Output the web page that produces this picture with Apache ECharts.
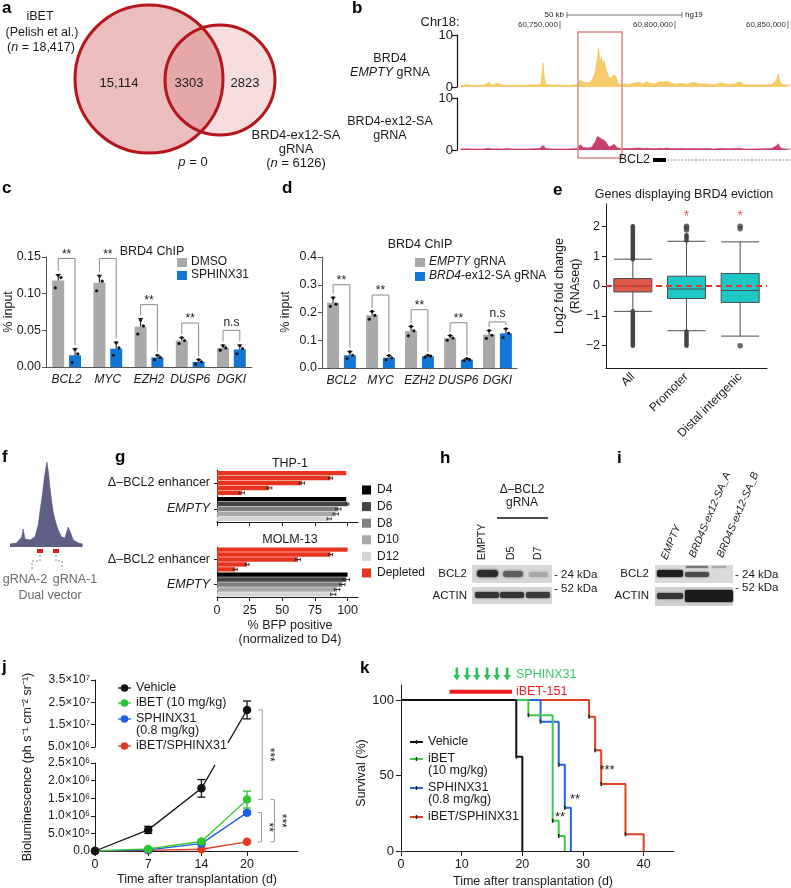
<!DOCTYPE html>
<html>
<head>
<meta charset="utf-8">
<title>BRD4 / BCL2 figure</title>
<script src="https://cdn.jsdelivr.net/npm/echarts@6.0.0/dist/echarts.min.js"></script>
<style>
  html, body { margin: 0; padding: 0; background: #fff; }
  #chart { width: 791px; height: 888px; }
</style>
</head>
<body>
<div id="chart"></div>
<script>
const F = '"Liberation Sans", Arial, Helvetica, sans-serif';

// a. Venn overlap counts
const vennCounts = ['15,114', '3303', '2823'];

// b. BRD4 ChIP tracks, position in kb after chr18:60,700,000
const bPos = [6.5, 9.4, 11.5, 13.8, 16.5, 18.8, 20.5, 22.5, 24.5, 26.8, 29.5, 32.6, 35.5, 38.4, 40.5, 41.6,
  42.0, 42.5, 43.0, 43.6, 45.0, 47.1, 50.0, 52.9, 55.0, 57.2, 58.7, 60.0, 61.6, 62.8, 63.8, 65.2,
  66.2, 66.7, 67.3, 67.9, 68.5, 69.1, 69.8, 70.6, 71.4, 72.5, 73.4, 74.2, 75.0, 76.0, 76.8, 78.0,
  80.0, 81.9, 84.0, 86.0, 87.7, 89.0, 91.0, 93.5, 95.0, 96.4, 98.0, 100.0, 102.0, 105.1, 108.0, 110.9,
  114.0, 117.0, 119.6, 123.0, 126.0, 128.3, 130.0, 134.1, 138.0, 142.0, 144.2, 144.9, 145.6, 146.5, 148.0, 150.4];
const bEmpty = [0.3, 0.45, 0.3, 0.3, 0.35, 0.85, 0.35, 0.75, 0.4, 0.3, 0.35, 0.3, 0.35, 0.4, 0.45, 0.6,
  2.2, 4.6, 2.0, 0.5, 0.4, 0.4, 0.35, 0.3, 0.35, 0.5, 1.3, 0.9, 0.8, 0.9, 1.3, 2.8,
  5.8, 7.4, 4.8, 5.8, 4.2, 5.1, 3.6, 2.6, 1.6, 1.9, 2.4, 2.0, 0.8, 0.5, 0.8, 0.6,
  0.5, 0.7, 0.9, 0.6, 1.0, 0.7, 0.6, 1.0, 0.9, 1.1, 0.8, 0.5, 0.7, 0.5, 0.9, 0.6,
  0.6, 0.4, 0.8, 0.5, 0.6, 1.0, 0.4, 0.4, 0.4, 0.5, 1.3, 2.5, 1.2, 0.5, 0.4, 0.35];
const bBrd4 = [0.2, 0.25, 0.2, 0.2, 0.2, 0.35, 0.2, 0.25, 0.2, 0.3, 0.2, 0.2, 0.2, 0.25, 0.3, 0.4,
  0.8, 1.0, 0.7, 0.3, 0.25, 0.2, 0.2, 0.2, 0.25, 0.3, 1.0, 0.5, 0.4, 0.45, 0.6, 1.6,
  2.6, 2.7, 2.3, 2.4, 2.0, 2.2, 1.6, 1.0, 0.6, 0.8, 1.1, 1.0, 0.4, 0.3, 0.45, 0.3,
  0.3, 0.35, 0.4, 0.3, 0.35, 0.3, 0.25, 0.35, 0.3, 0.4, 0.3, 0.25, 0.3, 0.25, 0.3, 0.25,
  0.3, 0.2, 0.3, 0.25, 0.3, 0.35, 0.2, 0.2, 0.25, 0.3, 0.8, 1.2, 0.6, 0.3, 0.2, 0.2];

// c. BRD4 ChIP, DMSO vs SPHINX31
const genes = ['BCL2', 'MYC', 'EZH2', 'DUSP6', 'DGKI'];
const cDmso = [0.118, 0.115, 0.055, 0.036, 0.026];
const cDmsoErr = [0.008, 0.010, 0.011, 0.004, 0.004];
const cDmsoReps = [[0.108, 0.122, 0.125], [0.104, 0.117, 0.124], [0.045, 0.056, 0.064], [0.032, 0.036, 0.040], [0.023, 0.026, 0.029]];
const cSph = [0.016, 0.025, 0.013, 0.007, 0.024];
const cSphErr = [0.009, 0.009, 0.003, 0.003, 0.006];
const cSphReps = [[0.006, 0.018, 0.024], [0.016, 0.026, 0.033], [0.010, 0.013, 0.016], [0.004, 0.007, 0.010], [0.018, 0.025, 0.029]];
const cSig = ['**', '**', '**', '**', 'n.s'];
const cSigTop = [0.148, 0.148, 0.085, 0.060, 0.050];

// d. BRD4 ChIP, EMPTY vs BRD4-ex12-SA gRNA
const dEmpty = [0.235, 0.190, 0.133, 0.108, 0.120];
const dEmptyErr = [0.020, 0.014, 0.017, 0.009, 0.015];
const dEmptyReps = [[0.222, 0.230, 0.253], [0.176, 0.190, 0.204], [0.116, 0.134, 0.150], [0.100, 0.108, 0.117], [0.107, 0.118, 0.135]];
const dBrd = [0.046, 0.037, 0.042, 0.030, 0.125];
const dBrdErr = [0.014, 0.008, 0.004, 0.004, 0.017];
const dBrdReps = [[0.034, 0.046, 0.058], [0.030, 0.037, 0.045], [0.039, 0.043, 0.046], [0.027, 0.030, 0.034], [0.110, 0.125, 0.141]];
const dSig = ['**', '**', '**', '**', 'n.s'];
const dSigTop = [0.300, 0.263, 0.210, 0.163, 0.166];

// e. log2 fold change boxes [min, Q1, median, Q3, max]
const eCats = ['All', 'Promoter', 'Distal intergenic'];
const eBox = [[-0.85, -0.2, 0.0, 0.25, 0.9], [-1.5, -0.42, -0.1, 0.33, 1.5], [-1.68, -0.55, -0.15, 0.42, 1.48]];
const eOutlierRuns = [[0, 0.9, 2.0], [0, -0.85, -2.0], [1, 1.53, 1.7], [1, -1.53, -2.0]];
const eOutliers = [[1, 1.88], [1, 1.95], [1, 2.0], [2, 1.92], [2, 2.0], [2, -2.0]];
const eStars = [[1, 2.33], [2, 2.33]];

// f. enhancer peak
const fPos = [0, 2.2, 3.9, 4.4, 5.0, 6.7, 8.3, 9.4, 10.2, 10.9, 11.4, 12.0, 12.3, 12.8, 13.3, 13.9, 14.4, 15.2, 16.1, 17.2, 18.3, 19.4, 20.2, 21.1, 22.8, 24.2];
const fSignal = [3, 4, 10, 18, 8, 7, 10, 22, 40, 55, 68, 80, 85, 75, 60, 45, 35, 25, 17, 10, 9, 20, 14, 7, 4, 3];

// g. % BFP positive
const gDays = ['D4', 'D6', 'D8', 'D10', 'D12'];
const gCats = ['Δ–BCL2 enhancer', 'EMPTY'];
const thpEnh = [99, 87, 65, 40, 19];
const thpEnhErr = [0, 1.5, 2, 2, 2];
const thpEmpty = [99, 100, 93, 91, 86];
const thpEmptyErr = [0, 1, 2, 2, 1.5];
const molmEnh = [100, 87, 62, 23, 14];
const molmEnhErr = [0, 1.5, 2, 1.5, 1.5];
const molmEmpty = [100, 99, 96, 92, 89];
const molmEmptyErr = [0, 2.5, 2, 2, 2];
const gTicks = [0, 25, 50, 75, 100];

// j. bioluminescence
const jDays = [0, 7, 14, 20];
const jVehicle = [0, 6.0e5, 1.78e6, 2.16e7];
const jVehicleErr = [0, 1.0e5, 2.5e5, 4.0e6];
const jIbet = [0, 6e4, 2.7e5, 1.46e6];
const jIbetErr = [0, 0, 4e4, 2.4e5];
const jSphinx = [0, 3e4, 2.1e5, 1.09e6];
const jSphinxErr = [0, 0, 3e4, 5e4];
const jCombo = [0, 2e4, 5e4, 2.6e5];
const jComboErr = [0, 0, 0, 3e4];
const jLowTicks = ['0.0', '5.0×10⁵', '1.0×10⁶', '1.5×10⁶', '2.0×10⁶', '2.5×10⁶'];
const jUpTicks = ['5.0×10⁶', '1.5×10⁷', '2.5×10⁷', '3.5×10⁷'];
const jSigX = [22.0, 21.9, 23.6];
const jSigTop = [jVehicle[3], jSphinx[3], jIbet[3]];
const jSigBottom = [jIbet[3], jCombo[3], jCombo[3]];
const jSigLabel = ['***', '**', '***'];

// k. survival
const kVehT = [0, 19, 20], kVehS = [100, 62.5, 0];
const kIbetT = [0, 21, 25, 26, 27], kIbetS = [100, 90, 20, 10, 0];
const kSphT = [0, 23, 26, 27, 28], kSphS = [100, 85.7, 57.1, 28.6, 0];
const kComboT = [0, 31, 32, 33, 37, 40], kComboS = [100, 88.9, 66.7, 44.4, 11.1, 0];
const kSphinxDoses = [9.2, 10.9, 12.5, 14.2, 15.8, 17.5];
const kIbetWindow = [8, 18.3];

const jColors = ['#111111', '#2fc62f', '#1f5fe8', '#e03b24'];
const kColors = ['#111111', '#3ccc4a', '#2266e0', '#e0401f'];
const gRed = '#e8341f';
const gColors = ['#000000', '#434343', '#7f7f7f', '#a8a8a8', '#d5d5d5'];
const jLowMax = 2.5e6, jUpMin = 5e6;
const gBarW = 4.4, gGap = 0.12;

const chart = echarts.init(document.getElementById('chart'));

// ---------- helpers ----------
function txt(x, y, text, o) {
  o = o || {};
  const st = {
    text: text, fill: o.fill || '#1a1a1a', fontSize: o.size || 12, fontFamily: F,
    fontWeight: o.weight || 'normal', fontStyle: o.style || 'normal',
    align: o.align || 'center', textAlign: o.align || 'center',
    verticalAlign: 'middle', textVerticalAlign: 'middle'
  };
  if (o.it) st.rich = { i: { fontStyle: 'italic', fontSize: o.size || 12, fontFamily: F, fill: o.fill || '#1a1a1a' } };
  return { type: 'text', x: x, y: y, rotation: o.rot || 0, style: st, silent: true, z: 100 };
}
function rect(x, y, w, h, fill, o) {
  o = o || {};
  return { type: 'rect', shape: { x: x, y: y, width: w, height: h, r: o.r || 0 },
    style: { fill: fill, stroke: o.stroke || null, lineWidth: o.lw || 0, shadowBlur: o.blur || 0, shadowColor: o.blur ? fill : null },
    silent: true, z: o.z || 50 };
}
function seg(x1, y1, x2, y2, stroke, lw, dash) {
  return { type: 'line', shape: { x1: x1, y1: y1, x2: x2, y2: y2 },
    style: { stroke: stroke, lineWidth: lw || 1, lineDash: dash || null }, silent: true, z: 60 };
}
function poly(points, stroke, lw, dash) {
  return { type: 'polyline', shape: { points: points }, style: { stroke: stroke, lineWidth: lw || 1, fill: null, lineDash: dash || null }, silent: true, z: 60 };
}

// error bar + replicate dots for a vertical bar
function barDetail(offset) {
  return function (params, api) {
    const i = api.value(0), m = api.value(1), e = api.value(2);
    const base = api.coord([i, m]);
    const x = base[0] + offset;
    const top = api.coord([i, m + e])[1];
    const ch = [
      { type: 'line', shape: { x1: x, y1: base[1], x2: x, y2: top }, style: { stroke: '#111', lineWidth: 1 } },
      { type: 'line', shape: { x1: x - 2.5, y1: top, x2: x + 2.5, y2: top }, style: { stroke: '#111', lineWidth: 1 } }
    ];
    const dx = [-2.8, 2.8, 0];
    for (let k = 0; k < 3; k++) {
      const p = api.coord([i, api.value(3 + k)]);
      ch.push({ type: 'circle', shape: { cx: x + dx[k], cy: p[1], r: 1.6 }, style: { fill: '#111' } });
    }
    return { type: 'group', children: ch };
  };
}
function bracket(labels, offset) {
  return function (params, api) {
    const i = api.value(0);
    const yT = api.coord([i, api.value(1)])[1];
    const yL = api.coord([i, api.value(2)])[1];
    const yR = api.coord([i, api.value(3)])[1];
    const cx = api.coord([i, 0])[0];
    const lab = labels[params.dataIndex];
    return { type: 'group', children: [
      { type: 'polyline', shape: { points: [[cx - offset, yL], [cx - offset, yT], [cx + offset, yT], [cx + offset, yR]] },
        style: { stroke: '#8a8a8a', lineWidth: 1, fill: null } },
      { type: 'text', x: cx, y: yT - (lab === 'n.s' ? 8 : 4),
        style: { text: lab, fontSize: 12, fontFamily: F, fill: '#1a1a1a', align: 'center', verticalAlign: 'middle' } }
    ] };
  };
}
function chipSeries(ax, a, aErr, aReps, b, bErr, bReps, sigTop, sig, colA, colB, legGap) {
  const off = 8.4;
  const base = { coordinateSystem: 'cartesian2d', xAxisIndex: ax, yAxisIndex: ax, silent: true };
  return [
    Object.assign({ type: 'bar', data: a, barWidth: 12, barGap: '40%', itemStyle: { color: colA } }, base),
    Object.assign({ type: 'bar', data: b, barWidth: 12, barGap: '40%', itemStyle: { color: colB } }, base),
    Object.assign({ type: 'custom', z: 5, renderItem: barDetail(-off), data: a.map((v, i) => [i, v, aErr[i]].concat(aReps[i])) }, base),
    Object.assign({ type: 'custom', z: 5, renderItem: barDetail(off), data: b.map((v, i) => [i, v, bErr[i]].concat(bReps[i])) }, base),
    Object.assign({ type: 'custom', z: 5, renderItem: bracket(sig, off),
      data: sigTop.map((t, i) => [i, t, a[i] + aErr[i] + legGap, b[i] + bErr[i] + legGap]) }, base)
  ];
}
function gOff(k) {
  const total = 5 * gBarW + 4 * gBarW * gGap;
  return -total / 2 + gBarW / 2 + k * gBarW * (1 + gGap);
}
function gSeries(ax, enh, enhErr, emp, empErr) {
  const bars = gDays.map((d, k) => ({
    type: 'bar', name: d, xAxisIndex: ax, yAxisIndex: ax, silent: true,
    data: [{ value: enh[k], itemStyle: { color: gRed } }, emp[k]],
    barWidth: gBarW, barGap: (gGap * 100) + '%', itemStyle: { color: gColors[k] }
  }));
  const errData = [];
  gDays.forEach((d, k) => {
    if (enhErr[k]) errData.push([0, k, enh[k], enhErr[k]]);
    if (empErr[k]) errData.push([1, k, emp[k], empErr[k]]);
  });
  bars.push({
    type: 'custom', coordinateSystem: 'cartesian2d', xAxisIndex: ax, yAxisIndex: ax, z: 6, silent: true,
    data: errData,
    renderItem: function (params, api) {
      const cat = api.value(0), k = api.value(1), v = api.value(2), e = api.value(3);
      const y = api.coord([v, cat])[1] + gOff(k);
      const xl = api.coord([v - e, cat])[0], xr = api.coord([v + e, cat])[0];
      const s = { stroke: '#222', lineWidth: 0.9 };
      return { type: 'group', children: [
        { type: 'line', shape: { x1: xl, y1: y, x2: xr, y2: y }, style: s },
        { type: 'line', shape: { x1: xl, y1: y - 1.6, x2: xl, y2: y + 1.6 }, style: s },
        { type: 'line', shape: { x1: xr, y1: y - 1.6, x2: xr, y2: y + 1.6 }, style: s }
      ] };
    }
  });
  return bars;
}
function vErr(colors) {
  return function (params, api) {
    const x = api.value(0), m = api.value(1), e = api.value(2);
    const p1 = api.coord([x, m - e]), p2 = api.coord([x, m + e]);
    const s = { stroke: colors[api.value(3)], lineWidth: 1.3 };
    return { type: 'group', children: [
      { type: 'line', shape: { x1: p1[0], y1: p1[1], x2: p2[0], y2: p2[1] }, style: s },
      { type: 'line', shape: { x1: p1[0] - 4, y1: p1[1], x2: p1[0] + 4, y2: p1[1] }, style: s },
      { type: 'line', shape: { x1: p2[0] - 4, y1: p2[1], x2: p2[0] + 4, y2: p2[1] }, style: s }
    ] };
  };
}
function upperPx(x, v) {
  return chart.convertToPixel({ xAxisIndex: 8, yAxisIndex: 8 }, [x, v]);
}
function kmSeries(t, s, color, z) {
  return {
    type: 'line', xAxisIndex: 10, yAxisIndex: 10, step: 'end', z: z, silent: true,
    data: t.map((x, i) => ({ value: [x, s[i]], symbol: (i === 0 || i === t.length - 1) ? 'none' : 'rect' })),
    symbol: 'rect', symbolSize: [1.6, 4], itemStyle: { color: '#222' },
    lineStyle: { color: color, width: 2 }
  };
}

const axLine = { show: true, lineStyle: { color: '#1a1a1a', width: 1 } };
const axTick = { show: true, length: 4, lineStyle: { color: '#1a1a1a' } };
const noSplit = { show: false };
const minusFmt = v => (v < 0 ? '−' + (-v) : String(v));

// ---------- graphic elements ----------
const G = [];
[['a', 2, 8], ['b', 352, 8], ['c', 2, 188], ['d', 282, 188], ['e', 553, 190], ['f', 2, 457], ['g', 115, 457],
 ['h', 440, 458], ['i', 617, 458], ['j', 2, 667], ['k', 360, 668]].forEach(l =>
  G.push(txt(l[1], l[2], l[0], { size: 17, weight: 'bold', align: 'left', fill: '#000' })));

// a: Venn
G.push({ type: 'circle', shape: { cx: 149, cy: 79, r: 74 }, style: { fill: '#ebbdbd' }, silent: true, z: 40 });
G.push({ type: 'circle', shape: { cx: 220, cy: 80, r: 55 }, style: { fill: 'rgba(200,60,60,0.17)' }, silent: true, z: 41 });
G.push({ type: 'circle', shape: { cx: 149, cy: 79, r: 74 }, style: { fill: null, stroke: '#b5161c', lineWidth: 3 }, silent: true, z: 42 });
G.push({ type: 'circle', shape: { cx: 220, cy: 80, r: 55 }, style: { fill: null, stroke: '#b5161c', lineWidth: 3 }, silent: true, z: 43 });
G.push(txt(40, 17, 'iBET', { size: 12.5 }), txt(42, 33, '(Pelish et al.)', { size: 12.5 }), txt(41, 48, '({i|n} = 18,417)', { size: 12.5, it: true }));
G.push(txt(119, 83, vennCounts[0], { size: 13 }), txt(189, 83, vennCounts[1], { size: 13 }), txt(245, 83, vennCounts[2], { size: 13 }));
G.push(txt(296, 135, 'BRD4-ex12-SA', { size: 13 }), txt(296, 149, 'gRNA', { size: 13 }), txt(296, 163, '({i|n} = 6126)', { size: 13, it: true }));
G.push(txt(193, 162, '{i|p} = 0', { size: 13, it: true }));

// b: labels, scale, gene model
G.push(txt(440, 22, 'Chr18:', { size: 13 }));
G.push(txt(390, 59, 'BRD4', { size: 12.5 }), txt(390, 73, '{i|EMPTY} gRNA', { size: 12.5, it: true }));
G.push(txt(390, 122, 'BRD4-ex12-SA', { size: 12.5 }), txt(390, 136, 'gRNA', { size: 12.5 }));
G.push(txt(564, 15, '50 kb', { size: 8, align: 'right' }), seg(567, 15, 682, 15, '#555', 0.8),
  seg(567, 12, 567, 18, '#555', 0.8), seg(682, 12, 682, 18, '#555', 0.8), txt(685, 15, 'hg19', { size: 8, align: 'left' }));
[['60,750,000', 560], ['60,800,000', 675], ['60,850,000', 788]].forEach(c => {
  G.push(txt(c[1] - 2, 25, c[0], { size: 8, align: 'right', fill: '#333' }), seg(c[1], 21, c[1], 29, '#555', 0.8));
});
G.push({ type: 'rect', shape: { x: 578, y: 32, width: 44, height: 126 }, style: { fill: null, stroke: '#d98c8c', lineWidth: 1.5 }, silent: true, z: 70 });
G.push(txt(650, 160, 'BCL2', { size: 12.5, align: 'right' }), rect(653, 158, 13, 4, '#000'), seg(667, 160, 791, 160, '#8a8a8a', 1, [2, 1.5]));

// c, d titles, legends, y titles
G.push(txt(152, 252, 'BRD4 ChIP', { size: 12.5 }));
G.push(rect(177, 258, 10, 9, '#a9a9a9'), rect(177, 271, 10, 9, '#1276d6'));
G.push(txt(191, 262, 'DMSO', { align: 'left' }), txt(191, 275, 'SPHINX31', { align: 'left' }));
G.push(txt(9, 312, '% input', { size: 12.5, rot: Math.PI / 2 }));
G.push(txt(420, 245, 'BRD4 ChIP', { size: 12.5 }));
G.push(rect(415, 258, 10, 9, '#a9a9a9'), rect(415, 272, 10, 9, '#1276d6'));
G.push(txt(429, 262, '{i|EMPTY} gRNA', { align: 'left', it: true }), txt(429, 276, '{i|BRD4}-ex12-SA gRNA', { align: 'left', it: true }));
G.push(txt(286, 312, '% input', { size: 12.5, rot: Math.PI / 2 }));

// e
G.push(txt(684, 195, 'Genes displaying BRD4 eviction', { size: 12.5 }));
G.push(txt(560, 286, 'Log2 fold change', { size: 12.5, rot: Math.PI / 2 }), txt(576, 286, '(RNAseq)', { size: 12.5, rot: Math.PI / 2 }));

// f
G.push(rect(37, 549, 6, 4, '#d4201a'), rect(53, 549, 6, 4, '#d4201a'));
G.push(poly([[40, 555], [40, 561], [32, 561], [32, 570]], '#888', 1, [2, 2]), poly([[56, 555], [56, 561], [62, 561], [62, 570]], '#888', 1, [2, 2]));
G.push(txt(25, 580, 'gRNA-2', { fill: '#6a6a6a', size: 12.5 }), txt(75, 580, 'gRNA-1', { fill: '#6a6a6a', size: 12.5 }), txt(50, 596, 'Dual vector', { fill: '#6a6a6a', size: 12.5 }));

// g
G.push(txt(290, 464, 'THP-1', { size: 12.5 }), txt(290, 540, 'MOLM-13', { size: 12.5 }));
G.push(txt(290, 626, '% BFP positive', { size: 12.5 }), txt(290, 640, '(normalized to D4)', { size: 12.5 }));
gDays.concat(['Depleted']).forEach((d, k) => {
  const y = 490 + k * 16.6;
  G.push(rect(362, y - 4.5, 9, 9, k < 5 ? gColors[k] : gRed), txt(377, y, d, { align: 'left' }));
});

// h blot
G.push(txt(522, 490, 'Δ–BCL2'), txt(522, 503, 'gRNA'), seg(497, 518, 548, 518, '#111', 1.5));
[['EMPTY', 482], ['D5', 511], ['D7', 538]].forEach(l => G.push(txt(l[1], 560, l[0], { size: 10.5, align: 'left', rot: Math.PI / 2 })));
G.push(rect(472, 565, 80, 18, '#d8d8d8'), rect(472, 587, 80, 17, '#d4d4d4'));
G.push(rect(477, 570, 21, 7, '#2a2a2a', { r: 3, blur: 3, z: 51 }), rect(503, 571, 20, 6, '#5e5e5e', { r: 3, blur: 3, z: 51 }),
  rect(529, 572, 19, 5, '#a8a8a8', { r: 2, blur: 3, z: 51 }));
G.push(rect(475, 592, 24, 6, '#333', { r: 2, blur: 2, z: 51 }), rect(500, 592, 24, 6, '#333', { r: 2, blur: 2, z: 51 }),
  rect(526, 592, 24, 6, '#3a3a3a', { r: 2, blur: 2, z: 51 }));
G.push(txt(467, 574, 'BCL2', { align: 'right', size: 11.5 }), txt(467, 596, 'ACTIN', { align: 'right', size: 11.5 }));
G.push(txt(554, 575, '- 24 kDa', { align: 'left', size: 11.5 }), txt(554, 589, '- 52 kDa', { align: 'left', size: 11.5 }));

// i blot
[['EMPTY', 664, 559], ['BRD4S-ex12-SA_A', 692, 557], ['BRD4S-ex12-SA_B', 720, 557]].forEach(l =>
  G.push(txt(l[1], l[2], l[0], { size: 10.5, align: 'left', style: 'italic', rot: 67 * Math.PI / 180 })));
G.push(rect(655, 565, 78, 18, '#dadada'), rect(655, 587, 78, 19, '#d0d0d0'));
G.push(rect(657, 570, 26, 7, '#1e1e1e', { r: 2, blur: 2, z: 51 }), rect(685, 572, 24, 5, '#4a4a4a', { r: 2, blur: 2, z: 51 }),
  rect(686, 566, 22, 2, '#777', { blur: 1.5, z: 51 }), rect(712, 566, 14, 2, '#aaa', { blur: 1.5, z: 51 }));
G.push(rect(657, 593, 26, 6, '#333', { r: 2, blur: 2, z: 51 }), rect(685, 590, 48, 12, '#1a1a1a', { r: 2, blur: 2, z: 51 }));
G.push(txt(649, 574, 'BCL2', { align: 'right', size: 11.5 }), txt(649, 596, 'ACTIN', { align: 'right', size: 11.5 }));
G.push(txt(735, 575, '- 24 kDa', { align: 'left', size: 11.5 }), txt(735, 588, '- 52 kDa', { align: 'left', size: 11.5 }));

// j legend, titles
[['Vehicle', 688], ['iBET (10 mg/kg)', 703], ['SPHINX31', 719], ['iBET/SPHINX31', 746]].forEach((l, k) => {
  G.push(seg(118, l[1], 131, l[1], jColors[k], 1.3));
  G.push({ type: 'circle', shape: { cx: 124.5, cy: l[1], r: 3.8 }, style: { fill: jColors[k] }, silent: true, z: 61 });
  G.push(txt(136, l[1], l[0], { align: 'left', size: 12.5 }));
});
G.push(txt(136, 731, '(0.8 mg/kg)', { align: 'left', size: 12.5 }));
G.push(txt(28, 767, 'Bioluminescence (ph s⁻¹ cm⁻² sr⁻¹)', { size: 12.5, rot: Math.PI / 2 }));
G.push(txt(197, 880, 'Time after transplantation (d)', { size: 12.5 }));

// k legend, titles, annotations
[['Vehicle', 742], ['iBET', 759], ['SPHINX31', 788], ['iBET/SPHINX31', 817]].forEach((l, k) => {
  G.push(seg(410, l[1], 423, l[1], kColors[k], 2), seg(416.5, l[1] - 2, 416.5, l[1] + 2, '#222', 1.4));
  G.push(txt(428, l[1], l[0], { align: 'left', size: 12.5 }));
});
G.push(txt(428, 771, '(10 mg/kg)', { align: 'left', size: 12.5 }), txt(428, 800, '(0.8 mg/kg)', { align: 'left', size: 12.5 }));
G.push(txt(516, 675, 'SPHINX31', { align: 'left', size: 12.5, fill: '#3cc86a' }), txt(516, 692, 'iBET-151', { align: 'left', size: 12.5, fill: '#ee2222' }));
G.push(txt(607, 770, '***', { size: 13 }), txt(575, 799, '**', { size: 13 }), txt(560, 817, '**', { size: 13 }));
G.push(txt(362, 773, 'Survival (%)', { size: 12.5, rot: Math.PI / 2 }));
G.push(txt(533, 882, 'Time after transplantation (d)', { size: 12.5 }));

// ---------- series ----------
const series = [];
series.push({ type: 'line', xAxisIndex: 0, yAxisIndex: 0, data: bPos.map((p, i) => [p, bEmpty[i]]), symbol: 'none', silent: true,
  lineStyle: { width: 0.6, color: '#f0c050' }, areaStyle: { color: '#f6cb6a', opacity: 1 } });
series.push({ type: 'line', xAxisIndex: 1, yAxisIndex: 1, data: bPos.map((p, i) => [p, bBrd4[i]]), symbol: 'none', silent: true,
  lineStyle: { width: 0.6, color: '#c23a66' }, areaStyle: { color: '#c9406c', opacity: 1 } });

chipSeries(2, cDmso, cDmsoErr, cDmsoReps, cSph, cSphErr, cSphReps, cSigTop, cSig, '#a9a9a9', '#1276d6', 0.005).forEach(s => series.push(s));
chipSeries(3, dEmpty, dEmptyErr, dEmptyReps, dBrd, dBrdErr, dBrdReps, dSigTop, dSig, '#a9a9a9', '#1276d6', 0.012).forEach(s => series.push(s));

// e
series.push({
  type: 'boxplot', xAxisIndex: 4, yAxisIndex: 4, silent: true, boxWidth: [38, 38],
  data: eBox.map((b, i) => ({ value: b, itemStyle: { color: i === 0 ? '#df5a4b' : '#1cc8c6' } })),
  itemStyle: { borderColor: '#4d4d4d', borderWidth: 1 },
  markLine: { silent: true, symbol: ['none', 'none'], label: { show: false }, data: [{ yAxis: 0 }],
    lineStyle: { color: '#e3342f', type: [6, 4], width: 2 } }
});
series.push({
  type: 'custom', coordinateSystem: 'cartesian2d', xAxisIndex: 4, yAxisIndex: 4, silent: true, z: 4, data: eOutlierRuns,
  renderItem: function (params, api) {
    const a = api.coord([api.value(0), api.value(1)]), b = api.coord([api.value(0), api.value(2)]);
    return { type: 'line', shape: { x1: a[0], y1: a[1], x2: b[0], y2: b[1] }, style: { stroke: '#444', lineWidth: 4.5, lineCap: 'round' } };
  }
});
series.push({ type: 'scatter', xAxisIndex: 4, yAxisIndex: 4, data: eOutliers, symbolSize: 5.5, itemStyle: { color: '#444' }, silent: true });
series.push({ type: 'scatter', xAxisIndex: 4, yAxisIndex: 4, data: eStars, symbolSize: 1, itemStyle: { color: 'rgba(0,0,0,0)' }, silent: true,
  label: { show: true, position: 'inside', formatter: '*', color: '#e53030', fontSize: 14, fontFamily: F } });

// f
series.push({ type: 'line', xAxisIndex: 5, yAxisIndex: 5, data: fPos.map((p, i) => [p, fSignal[i]]), symbol: 'none', silent: true,
  lineStyle: { width: 0.6, color: '#58587e' }, areaStyle: { color: '#5e5e86', opacity: 1 } });

// g
gSeries(6, thpEnh, thpEnhErr, thpEmpty, thpEmptyErr).forEach(s => series.push(s));
gSeries(7, molmEnh, molmEnhErr, molmEmpty, molmEmptyErr).forEach(s => series.push(s));

// j
const jGroups = [jVehicle, jIbet, jSphinx, jCombo];
const jErrs = [jVehicleErr, jIbetErr, jSphinxErr, jComboErr];
const jLowErr = [], jUpErr = [];
jGroups.forEach((g, gi) => {
  series.push({
    type: 'line', xAxisIndex: 9, yAxisIndex: 9, z: 10 - gi, silent: true,
    data: jDays.map((d, i) => [d, g[i]]).filter(p => p[1] <= jLowMax),
    symbol: 'circle', symbolSize: 8.5, itemStyle: { color: jColors[gi] }, lineStyle: { color: jColors[gi], width: 1.3 }
  });
  jDays.forEach((d, i) => {
    if (!jErrs[gi][i]) return;
    if (g[i] <= jLowMax) jLowErr.push([d, g[i], jErrs[gi][i], gi]);
    else jUpErr.push([d, g[i], jErrs[gi][i], gi]);
  });
});
series.push({ type: 'line', xAxisIndex: 8, yAxisIndex: 8, z: 10, silent: true,
  data: jDays.map((d, i) => [d, jVehicle[i]]).filter(p => p[1] >= jUpMin),
  symbol: 'circle', symbolSize: 8.5, itemStyle: { color: jColors[0] }, lineStyle: { color: jColors[0], width: 1.3 } });
series.push({ type: 'custom', coordinateSystem: 'cartesian2d', xAxisIndex: 9, yAxisIndex: 9, z: 9, silent: true, data: jLowErr, renderItem: vErr(jColors) });
series.push({ type: 'custom', coordinateSystem: 'cartesian2d', xAxisIndex: 8, yAxisIndex: 8, z: 9, silent: true, data: jUpErr, renderItem: vErr(jColors) });
// vehicle line across the axis break
series.push({
  type: 'custom', coordinateSystem: 'cartesian2d', xAxisIndex: 9, yAxisIndex: 9, z: 8, silent: true,
  data: [[jDays[2], jVehicle[2], jDays[3], jVehicle[3]]],
  renderItem: function (params, api) {
    const a = api.coord([api.value(0), api.value(1)]);
    const b = upperPx(api.value(2), api.value(3));
    const upBottom = upperPx(0, jUpMin)[1];
    const lowTop = params.coordSys.y;
    const at = y => a[0] + (b[0] - a[0]) * (a[1] - y) / (a[1] - b[1]);
    const s = { stroke: jColors[0], lineWidth: 1.3 };
    return { type: 'group', children: [
      { type: 'line', shape: { x1: a[0], y1: a[1], x2: at(lowTop + 2), y2: lowTop + 2 }, style: s },
      { type: 'line', shape: { x1: at(upBottom - 4), y1: upBottom - 4, x2: b[0], y2: b[1] }, style: s }
    ] };
  }
});
// significance brackets
series.push({
  type: 'custom', coordinateSystem: 'cartesian2d', xAxisIndex: 9, yAxisIndex: 9, z: 8, silent: true,
  data: jSigX.map((x, i) => [x, jSigTop[i], jSigBottom[i]]),
  renderItem: function (params, api) {
    const x = api.value(0), t = api.value(1), bt = api.value(2);
    const pt = t > jLowMax ? upperPx(x, t) : api.coord([x, t]);
    const pb = api.coord([x, bt]);
    const s = { stroke: '#9a9a9a', lineWidth: 1 };
    return { type: 'group', children: [
      { type: 'polyline', shape: { points: [[pt[0] - 4, pt[1]], [pt[0], pt[1]], [pb[0], pb[1]], [pb[0] - 4, pb[1]]] }, style: Object.assign({ fill: null }, s) },
      { type: 'text', x: pt[0] + 7, y: (pt[1] + pb[1]) / 2, rotation: -Math.PI / 2,
        style: { text: jSigLabel[params.dataIndex], fontSize: 12, fontFamily: F, fill: '#1a1a1a', align: 'center', verticalAlign: 'middle' } }
    ] };
  }
});

// k
series.push(kmSeries(kComboT, kComboS, kColors[3], 3));
series.push(kmSeries(kSphT, kSphS, kColors[2], 4));
series.push(kmSeries(kIbetT, kIbetS, kColors[1], 5));
series.push(kmSeries(kVehT, kVehS, kColors[0], 6));
series.push({
  type: 'custom', coordinateSystem: 'cartesian2d', xAxisIndex: 10, yAxisIndex: 10, silent: true, clip: false,
  data: kSphinxDoses.map(t => [t, 121.5, 113]),
  renderItem: function (params, api) {
    const a = api.coord([api.value(0), api.value(1)]), b = api.coord([api.value(0), api.value(2)]);
    const c = '#2fbf5a';
    return { type: 'group', children: [
      { type: 'rect', shape: { x: a[0] - 1.3, y: a[1], width: 2.6, height: b[1] - a[1] - 4 }, style: { fill: c } },
      { type: 'polygon', shape: { points: [[b[0] - 3.6, b[1] - 5.5], [b[0] + 3.6, b[1] - 5.5], [b[0], b[1]]] }, style: { fill: c } }
    ] };
  }
});
series.push({
  type: 'custom', coordinateSystem: 'cartesian2d', xAxisIndex: 10, yAxisIndex: 10, silent: true, clip: false,
  data: [[kIbetWindow[0], kIbetWindow[1], 105.5]],
  renderItem: function (params, api) {
    const a = api.coord([api.value(0), api.value(2)]), b = api.coord([api.value(1), api.value(2)]);
    return { type: 'rect', shape: { x: a[0], y: a[1] - 2, width: b[0] - a[0], height: 4 }, style: { fill: '#ee1c1c' } };
  }
});

const catLabel = { color: '#1a1a1a', fontSize: 12, fontFamily: F, fontStyle: 'italic', margin: 7, interval: 0 };
const option = {
  animation: false,
  backgroundColor: '#fff',
  textStyle: { fontFamily: F },
  grid: [
    { left: 457, top: 35, width: 334, height: 52 },
    { left: 457, top: 98, width: 334, height: 52 },
    { left: 46, top: 257, width: 206, height: 110 },
    { left: 322, top: 257, width: 195, height: 111 },
    { left: 606, top: 204, width: 161, height: 164 },
    { left: 10, top: 457, width: 73, height: 90 },
    { left: 217, top: 470, width: 141, height: 52 },
    { left: 217, top: 547, width: 141, height: 50 },
    { left: 95, top: 680, width: 203, height: 67 },
    { left: 95, top: 763, width: 203, height: 88 },
    { left: 401, top: 685, width: 273, height: 166 }
  ],
  xAxis: [
    { gridIndex: 0, type: 'value', min: 5, max: 150.5, show: false },
    { gridIndex: 1, type: 'value', min: 5, max: 150.5, show: false },
    { gridIndex: 2, type: 'category', data: genes, axisLine: { lineStyle: { color: '#555' } },
      axisTick: { alignWithLabel: true, length: 4, lineStyle: { color: '#555' } }, axisLabel: catLabel },
    { gridIndex: 3, type: 'category', data: genes, axisLine: { lineStyle: { color: '#555' } },
      axisTick: { alignWithLabel: true, length: 4, lineStyle: { color: '#555' } }, axisLabel: catLabel },
    { gridIndex: 4, type: 'category', data: eCats, axisLine: { show: true, onZero: false, lineStyle: { color: '#1a1a1a' } },
      axisTick: { alignWithLabel: true, length: 4 }, axisLabel: { color: '#1a1a1a', fontSize: 12, fontFamily: F, rotate: 45, margin: 7, interval: 0 } },
    { gridIndex: 5, type: 'value', min: 0, max: 24.33, show: false },
    { gridIndex: 6, type: 'value', min: 0, max: 108, axisLine: axLine, splitLine: noSplit,
      axisTick: { show: true, length: 4, customValues: gTicks }, axisLabel: { show: false } },
    { gridIndex: 7, type: 'value', min: 0, max: 108, axisLine: axLine, splitLine: noSplit,
      axisTick: { show: true, length: 4, customValues: gTicks }, axisLabel: { customValues: gTicks, margin: 7, fontSize: 12.5, color: '#1a1a1a', fontFamily: F } },
    { gridIndex: 8, type: 'value', min: 0, max: 26.7, show: false },
    { gridIndex: 9, type: 'value', min: 0, max: 26.7, axisLine: axLine, splitLine: noSplit,
      axisTick: { show: true, length: 5, customValues: jDays }, axisLabel: { customValues: jDays, color: '#1a1a1a', fontSize: 12.5, fontFamily: F, margin: 7 } },
    { gridIndex: 10, type: 'value', min: 0, max: 45, axisLine: axLine, splitLine: noSplit,
      axisTick: { show: true, length: 5, customValues: [0, 10, 20, 30, 40] }, axisLabel: { customValues: [0, 10, 20, 30, 40], color: '#1a1a1a', fontSize: 12.5, fontFamily: F, margin: 7 } }
  ],
  yAxis: [
    { gridIndex: 0, type: 'value', min: 0, max: 10, interval: 10, axisLine: { show: true, lineStyle: { color: '#111', width: 1.2 } },
      axisTick: { show: true, length: 5, lineStyle: { color: '#111', width: 1.2 } }, axisLabel: { color: '#1a1a1a', fontSize: 13, fontFamily: F, margin: 4 }, splitLine: noSplit },
    { gridIndex: 1, type: 'value', min: 0, max: 10, interval: 10, axisLine: { show: true, lineStyle: { color: '#111', width: 1.2 } },
      axisTick: { show: true, length: 5, lineStyle: { color: '#111', width: 1.2 } }, axisLabel: { color: '#1a1a1a', fontSize: 13, fontFamily: F, margin: 4 }, splitLine: noSplit },
    { gridIndex: 2, type: 'value', min: 0, max: 0.15, interval: 0.05, axisLine: { show: true, lineStyle: { color: '#555' } },
      axisTick: { show: true, length: 4, lineStyle: { color: '#555' } }, splitLine: noSplit,
      axisLabel: { color: '#1a1a1a', fontSize: 12.5, fontFamily: F, margin: 5, formatter: v => v.toFixed(2) } },
    { gridIndex: 3, type: 'value', min: 0, max: 0.4, interval: 0.1, axisLine: { show: true, lineStyle: { color: '#555' } },
      axisTick: { show: true, length: 4, lineStyle: { color: '#555' } }, splitLine: noSplit,
      axisLabel: { color: '#1a1a1a', fontSize: 12.5, fontFamily: F, margin: 5, formatter: v => v.toFixed(1) } },
    { gridIndex: 4, type: 'value', min: -2.75, max: 2.75, axisLine: axLine, splitLine: noSplit,
      axisTick: { show: true, length: 4, customValues: [-2, -1, 0, 1, 2] },
      axisLabel: { customValues: [-2, -1, 0, 1, 2], color: '#1a1a1a', fontSize: 12.5, fontFamily: F, margin: 6, formatter: minusFmt } },
    { gridIndex: 5, type: 'value', min: 0, max: 90, show: false },
    { gridIndex: 6, type: 'category', data: gCats, inverse: true, axisLine: axLine, axisTick: { show: true, alignWithLabel: true, length: 3 },
      axisLabel: { color: '#1a1a1a', fontSize: 12.5, fontFamily: F, margin: 7, interval: 0, formatter: v => (v === 'EMPTY' ? '{i|EMPTY}' : v),
        rich: { i: { fontStyle: 'italic', fontSize: 12.5, fontFamily: F, color: '#1a1a1a' } } } },
    { gridIndex: 7, type: 'category', data: gCats, inverse: true, axisLine: axLine, axisTick: { show: true, alignWithLabel: true, length: 3 },
      axisLabel: { color: '#1a1a1a', fontSize: 12.5, fontFamily: F, margin: 7, interval: 0, formatter: v => (v === 'EMPTY' ? '{i|EMPTY}' : v),
        rich: { i: { fontStyle: 'italic', fontSize: 12.5, fontFamily: F, color: '#1a1a1a' } } } },
    { gridIndex: 8, type: 'value', min: jUpMin, max: 3.5e7, interval: 1e7, axisLine: axLine, axisTick: axTick, splitLine: noSplit,
      axisLabel: { color: '#1a1a1a', fontSize: 12, fontFamily: F, margin: 5, formatter: v => jUpTicks[Math.round((v - jUpMin) / 1e7)] || '' } },
    { gridIndex: 9, type: 'value', min: 0, max: jLowMax, interval: 5e5, axisLine: axLine, axisTick: axTick, splitLine: noSplit,
      axisLabel: { color: '#1a1a1a', fontSize: 12, fontFamily: F, margin: 5, formatter: v => jLowTicks[Math.round(v / 5e5)] || '' } },
    { gridIndex: 10, type: 'value', min: 0, max: 110, axisLine: axLine, splitLine: noSplit,
      axisTick: { show: true, length: 5, customValues: [0, 50, 100] },
      axisLabel: { customValues: [0, 50, 100], color: '#1a1a1a', fontSize: 13, fontFamily: F, margin: 7 } }
  ],
  series: series,
  graphic: { elements: G }
};

chart.setOption(option);
</script>
</body>
</html>
